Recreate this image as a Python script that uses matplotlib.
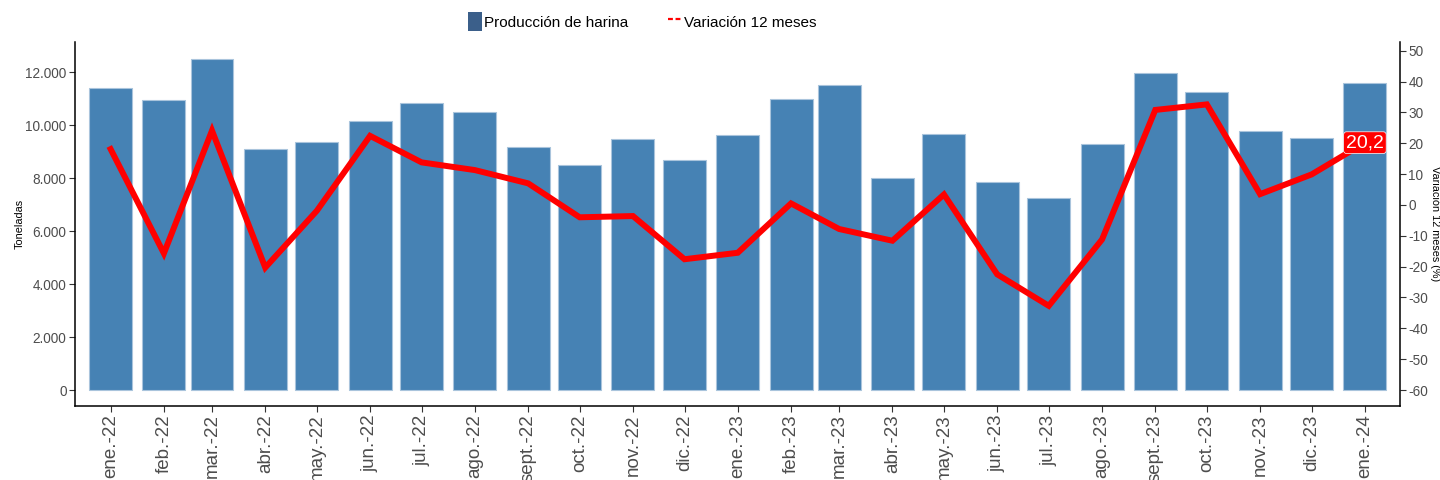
import matplotlib
matplotlib.use('Agg')
import matplotlib.pyplot as plt
import matplotlib.dates as mdates
from matplotlib.patches import Patch
from matplotlib.lines import Line2D
import pandas as pd

plt.rcParams['font.family'] = ['Liberation Sans', 'DejaVu Sans']

# Data
months = pd.date_range('2022-01-01', '2024-01-01', freq='MS')
month_labels = ['ene.-22', 'feb.-22', 'mar.-22', 'abr.-22', 'may.-22', 'jun.-22',
                'jul.-22', 'ago.-22', 'sept.-22', 'oct.-22', 'nov.-22', 'dic.-22',
                'ene.-23', 'feb.-23', 'mar.-23', 'abr.-23', 'may.-23', 'jun.-23',
                'jul.-23', 'ago.-23', 'sept.-23', 'oct.-23', 'nov.-23', 'dic.-23',
                'ene.-24']
produccion = [11420, 10960, 12520, 9120, 9370, 10170, 10830, 10500, 9170,
              8500, 9470, 8690, 9620, 10980, 11520, 8030, 9660, 7850,
              7240, 9290, 11980, 11250, 9800, 9520, 11590]
variacion = [18.1, -15.7, 24.1, -20.3, -1.9, 22.4, 13.8, 11.3, 7.0,
             -4.0, -3.6, -17.6, -15.5, 0.5, -7.8, -11.6, 3.4, -22.5,
             -32.7, -11.2, 30.8, 32.6, 3.5, 9.9, 20.2]
left_ticks = [0, 2000, 4000, 6000, 8000, 10000, 12000]
right_ticks = [-60, -50, -40, -30, -20, -10, 0, 10, 20, 30, 40, 50]

bar_color = '#4682b4'
grey = '#4d4d4d'

fig = plt.figure(figsize=(14.4, 4.8), dpi=100)
ax = fig.add_axes([0.052, 0.154, 0.9202, 0.759])
ax2 = ax.twinx()

x = mdates.date2num(months)
ax.bar(x, produccion, width=25, color=bar_color, edgecolor='#a9c4dc', linewidth=0.8, zorder=2)
ax2.plot(x, variacion, color='#ff0000', linewidth=4.3, solid_joinstyle='miter', zorder=3)

# label on last point
ax2.annotate(f"{variacion[-1]:.1f}".replace('.', ','), (x[-1], variacion[-1]),
             ha='center', va='center', color='white', fontsize=14,
             bbox=dict(boxstyle='round,pad=0.12,rounding_size=0.15', fc='#ff0000', ec='white', lw=0.5),
             zorder=4)

ax.set_xlim(x[0] - 20.8, x[-1] + 20.4)
ax.set_ylim(-604, 13160)
ax2.set_ylim(-65.2, 52.9)

ax.set_xticks(x)
ax.set_xticklabels(month_labels, rotation=90, fontsize=13.5, color=grey)
ax.set_yticks(left_ticks)
ax.set_yticklabels([f"{v:,}".replace(',', '.') for v in left_ticks], fontsize=9.8, color=grey)
ax2.set_yticks(right_ticks)
ax2.set_yticklabels([str(v) for v in right_ticks], fontsize=9.8, color=grey)

for a in (ax, ax2):
    a.tick_params(direction='out', length=4, width=0.8, color='#333333', pad=2)
    a.spines['top'].set_visible(False)
ax.spines['right'].set_visible(False)
ax2.spines['left'].set_visible(False)
ax2.spines['bottom'].set_visible(False)
for s in ('left', 'bottom'):
    ax.spines[s].set_linewidth(1.1)
ax2.spines['right'].set_linewidth(1.1)

ax.set_ylabel('Toneladas', fontsize=7.8, ha='center', va='center')
ax.yaxis.set_label_coords(-0.0415, 0.5)
ax2.set_ylabel('Variación 12 meses (%)', fontsize=7.8, rotation=270, ha='center', va='center')
ax2.yaxis.set_label_coords(1.0262, 0.5)

handles = [Patch(facecolor='#3b5f8a', edgecolor='none'),
           Line2D([0], [0], color='#ff0000', linestyle=(0, (2.2, 1.2)), linewidth=1.6)]
fig.legend(handles, ['Producción de harina', 'Variación 12 meses'], loc='center',
           bbox_to_anchor=(0.446, 0.955), ncol=2, frameon=False, fontsize=11,
           handlelength=0.95, handleheight=1.6, handletextpad=0.1, columnspacing=2.6)

fig.savefig('out.png', dpi=100)
